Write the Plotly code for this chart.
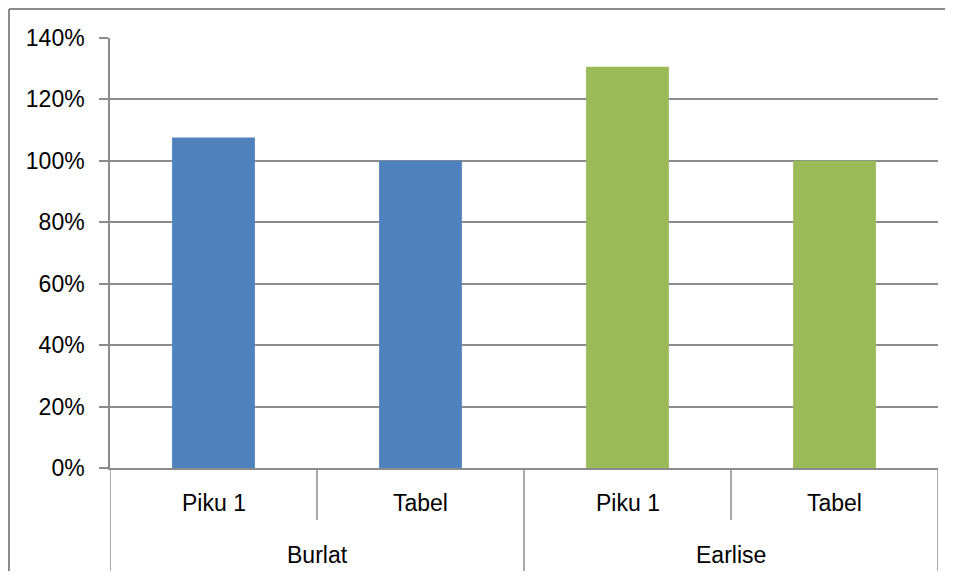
import plotly.graph_objects as go

groups = ["Burlat", "Burlat", "Earlise", "Earlise"]
subs = ["Piku 1", "Tabel", "Piku 1", "Tabel"]
values = [1.076, 1.0, 1.306, 1.0]
colors = ["#4F81BD", "#4F81BD", "#9BBB59", "#9BBB59"]
y_ticks = [0, 0.2, 0.4, 0.6, 0.8, 1.0, 1.2, 1.4]

FONT = "Liberation Sans, Arial, sans-serif"
GRAY = "#8c8c8c"
FS = 23
idx = list(range(len(values)))

fig = go.Figure(go.Bar(x=idx, y=values, marker=dict(color=colors, line=dict(width=0)),
                       width=0.4, showlegend=False))

# the page adds an 8px offset; the figure starts at (8, 8) on screen
W, H = 941, 565
L, R, T, B = 102, 11, 30, 105
pw, ph = W - L - R, H - T - B

def py(px):
    return -px / ph

shapes = []
group_names = []
for g in groups:
    if g not in group_names:
        group_names.append(g)
bounds = [-0.5]
for i in range(1, len(groups)):
    if groups[i] != groups[i - 1]:
        bounds.append(i - 0.5)
bounds.append(len(groups) - 0.5)
for i in range(len(subs) + 1):
    xb = i - 0.5
    outer = xb in bounds
    shapes.append(dict(type="line", xref="x", yref="paper", x0=xb, x1=xb,
                       y0=0, y1=py(103 if outer else 52),
                       line=dict(color=GRAY, width=1.5)))
# chart border: top and left edges (kept inside the figure)
bx = -(L - 1) / pw
by = 1 + (T - 1) / ph
shapes.append(dict(type="line", xref="paper", yref="paper", x0=bx, x1=1 + (R - 4) / pw, y0=by, y1=by,
                   line=dict(color=GRAY, width=2)))
shapes.append(dict(type="line", xref="paper", yref="paper", x0=bx, x1=bx, y0=by, y1=-(B - 2) / ph,
                   line=dict(color=GRAY, width=2)))

annotations = []
for i, s in enumerate(subs):
    annotations.append(dict(x=i, y=py(34.5), xref="x", yref="paper", text=s, showarrow=False,
                            xanchor="center", yanchor="middle",
                            font=dict(family=FONT, size=FS, color="#000000")))
for g in group_names:
    members = [i for i, gg in enumerate(groups) if gg == g]
    xc = (members[0] + members[-1]) / 2
    annotations.append(dict(x=xc, y=py(87), xref="x", yref="paper", text=g, showarrow=False,
                            xanchor="center", yanchor="middle",
                            font=dict(family=FONT, size=FS, color="#000000")))

fig.update_layout(
    width=W, height=H,
    margin=dict(l=L, r=R, t=T, b=B),
    paper_bgcolor="white", plot_bgcolor="white",
    bargap=0.6,
    shapes=shapes, annotations=annotations,
    font=dict(family=FONT, size=FS, color="#000000"),
)
fig.update_xaxes(range=[-0.5, len(values) - 0.5], showticklabels=False, showgrid=False,
                 zeroline=False, showline=True, linecolor=GRAY, linewidth=1.5,
                 ticks="", fixedrange=True)
fig.update_yaxes(range=[0, 1.4], tickvals=y_ticks, tickformat=".0%", showgrid=True,
                 gridcolor=GRAY, gridwidth=1.5, zeroline=False, showline=True,
                 linecolor=GRAY, linewidth=1.5, ticks="outside", ticklen=9,
                 tickcolor=GRAY, tickwidth=1.5, ticklabelstandoff=10,
                 tickfont=dict(family=FONT, size=FS, color="#000000"))

fig.write_html("out.html")
